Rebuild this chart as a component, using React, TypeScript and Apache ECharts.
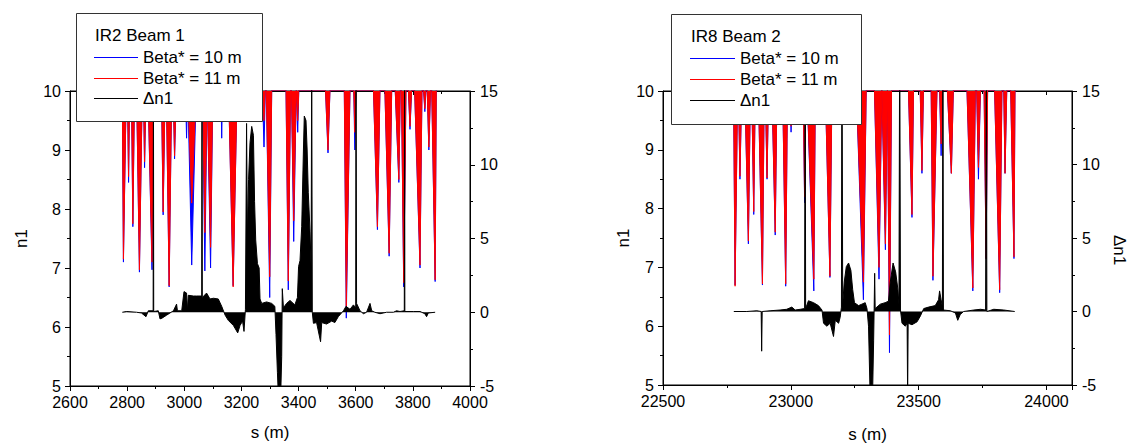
import React, { useEffect, useRef } from "react";
import * as echarts from "echarts";

// n1 value used for the part of each curve that lies just above the plotted range (off scale)
const N1_OFFSCALE = 10.05;

// IR2 Beam 1 aperture dips: [sStart, sMin, sEnd, n1 (Beta* = 10 m), n1 (Beta* = 11 m)]
const ir2Dips: number[][] = [
  [2783, 2787, 2797, 7.1, 7.15],
  [2801, 2805, 2809, 8.45, 8.55],
  [2815, 2820, 2826, 7.7, 7.75],
  [2833, 2843, 2853, 6.93, 6.97],
  [2857, 2861, 2866, 8.7, 8.8],
  [2873, 2887, 2892, 6.97, 7.1],
  [2920, 2926, 2933, 7.9, 7.95],
  [2937, 2947, 2956, 6.68, 6.7],
  [2961, 2966, 2972, 8.85, 8.9],
  [3004, 3008, 3012, 9.2, 9.8],
  [3014, 3026, 3042, 7.05, 8.1],
  [3064, 3072, 3080, 6.95, 7.6],
  [3082, 3092, 3100, 7.0, 7.35],
  [3128, 3131, 3134, 9.2, 9.9],
  [3155, 3171, 3185, 6.7, 6.68],
  [3273, 3279, 3284, 9.05, 9.5],
  [3287, 3299, 3306, 6.5, 6.85],
  [3356, 3364, 3372, 6.63, 6.78],
  [3375, 3383, 3392, 7.45, 7.8],
  [3394, 3397, 3401, 9.3, 9.5],
  [3494, 3503, 3510, 8.95, 9.0],
  [3560, 3567, 3580, 6.15, 6.35],
  [3593, 3597, 3601, 9.0, 9.3],
  [3662, 3676, 3685, 7.65, 7.7],
  [3702, 3717, 3726, 7.2, 7.25],
  [3738, 3751, 3756, 8.45, 8.5],
  [3760, 3768, 3776, 6.68, 6.75],
  [3784, 3790, 3796, 9.35, 9.4],
  [3806, 3825, 3832, 7.0, 7.05],
  [3837, 3842, 3846, 9.65, 9.7],
  [3850, 3856, 3862, 9.0, 9.05],
  [3866, 3878, 3882, 6.77, 6.8],
];

// IR2 Beam 1 delta n1: [s, dn1]
const ir2Dn1: number[][] = [
  [2783, 0], [2798, 0.05], [2833, 0], [2850, -0.05], [2866, -0.3], [2874, 0.1], [2891, 0.1],
  [2892, 18], [2893, 0.05], [2909, 0.1], [2915, -0.45], [2922, -0.4], [2938, -0.2], [2962, 0.1],
  [2973, 0.55], [2976, 0.1], [2991, 0.1], [2999, 1.4], [3008, 1.3], [3011, 0.1], [3014, 1.15],
  [3032, 1.1], [3043, 1.1], [3061, 1.1], [3062, 18], [3063, 1.0], [3078, 1.3], [3090, 0.9],
  [3102, 0.95], [3119, 0.9], [3131, 0.4], [3143, -0.2], [3154, -0.55], [3172, -0.9], [3187, -1.4],
  [3195, -0.9], [3204, -0.6], [3209, -1.3], [3214, 0.2], [3218, 12.8], [3221, 5], [3225, 9],
  [3230, 11.5], [3236, 12.6], [3242, 12.0], [3246, 7.5], [3250, 4.9], [3256, 3.3], [3262, 3.0],
  [3265, 0.9], [3271, 0.6], [3288, 0.7], [3306, 0.6], [3317, 0.4], [3321, -1.5], [3326, -4.1],
  [3330, -6], [3337, -6], [3341, -3], [3343, 1.6], [3347, 0.3], [3358, 0.6], [3370, 0.8],
  [3387, 0.5], [3396, 1.0], [3400, 3.1], [3405, 3.5], [3411, 5.8], [3417, 11], [3420, 13.3],
  [3426, 13.0], [3430, 11], [3434, 8.1], [3440, 5.5], [3444, 3.0], [3446, 18], [3448, 0],
  [3452, -0.75], [3463, -0.7], [3477, -2.0], [3481, -0.7], [3498, -0.8], [3516, -0.6],
  [3527, -0.7], [3539, -0.3], [3557, 0.1], [3566, 0.4], [3580, 0.2], [3592, 0.5], [3600, 0.3],
  [3601, 18], [3603, 0.6], [3615, 0.1], [3627, -0.1], [3638, 0], [3650, 0.6], [3656, 0.1],
  [3667, 0], [3685, -0.1], [3708, 0], [3732, 0], [3743, 0.1], [3755, 0.05], [3770, 0.1],
  [3771, 18], [3772, 0.05], [3802, 0.05], [3825, 0.05], [3842, -0.1], [3848, -0.3],
  [3854, -0.05], [3878, 0],
];

// IR8 Beam 2 aperture dips: [sStart, sMin, sEnd, n1 (Beta* = 10 m), n1 (Beta* = 11 m)]
const ir8Dips: number[][] = [
  [22776, 22782, 22792, 6.7, 6.68],
  [22795, 22801, 22808, 8.5, 8.55],
  [22820, 22834, 22842, 7.4, 7.45],
  [22847, 22855, 22861, 7.9, 7.95],
  [22873, 22889, 22896, 6.7, 6.72],
  [22900, 22907, 22913, 8.5, 8.52],
  [22926, 22939, 22946, 7.55, 7.6],
  [22968, 22980, 22987, 6.68, 6.72],
  [22997, 23001, 23005, 9.3, 9.4],
  [23048, 23054, 23058, 8.1, 8.2],
  [23063, 23090, 23096, 6.6, 6.8],
  [23135, 23153, 23161, 6.83, 6.85],
  [23256, 23284, 23295, 6.45, 6.75],
  [23327, 23345, 23356, 6.8, 7.0],
  [23358, 23370, 23378, 7.3, 7.4],
  [23380, 23386, 23394, 5.55, 5.85],
  [23460, 23474, 23480, 7.85, 7.9],
  [23506, 23513, 23519, 8.6, 8.65],
  [23549, 23556, 23572, 6.78, 6.85],
  [23582, 23588, 23594, 8.9, 9.1],
  [23612, 23628, 23636, 8.6, 8.6],
  [23689, 23712, 23722, 6.6, 6.65],
  [23727, 23734, 23742, 8.5, 8.7],
  [23756, 23764, 23770, 7.15, 7.15],
  [23797, 23817, 23826, 6.57, 6.62],
  [23833, 23838, 23845, 8.6, 8.6],
  [23860, 23873, 23877, 7.15, 7.18],
];

// IR8 Beam 2 delta n1: [s, dn1]
const ir8Dn1: number[][] = [
  [22777, 0], [22828, 0], [22867, 0.05], [22884, 0], [22886, -2.7], [22888, 0], [22919, 0.05],
  [22958, 0.1], [22984, 0.15], [23004, 0.3], [23017, 0.1], [23037, 0.15], [23054, 0.2],
  [23056, 20], [23058, 0.2], [23069, 0.73], [23089, 0.6], [23108, 0.4], [23122, 0.1],
  [23128, -0.8], [23141, -1.0], [23154, -0.8], [23167, -1.7], [23174, -0.6], [23187, -0.8],
  [23193, -0.4], [23198, 0.3], [23200, 20], [23203, 0.5], [23209, 2.0], [23217, 3.05],
  [23226, 3.3], [23235, 2.8], [23242, 1.5], [23249, 0.6], [23265, 0.4], [23278, 0.5],
  [23291, 0.6], [23298, 0.2], [23304, -1.0], [23310, -5.5], [23320, -5.5], [23324, -2.0],
  [23326, 0.2], [23328, 2.6], [23330, 0.2], [23350, 0.5], [23369, 0.6], [23382, 0.7],
  [23389, 2.0], [23400, 3.3], [23410, 2.7], [23419, 1.5], [23423, 0.5], [23426, 20],
  [23429, 0.1], [23435, -0.8], [23448, -1.0], [23455, -0.8], [23457, -6], [23459, -0.8],
  [23474, -0.9], [23494, -0.7], [23507, -0.3], [23520, 0.2], [23539, 0.3], [23565, 0.4],
  [23578, 0.8], [23582, 1.4], [23588, 0.8], [23593, 0.3], [23595, 20], [23597, 0.1],
  [23624, 0.05], [23644, -0.1], [23653, -0.6], [23663, -0.2], [23676, 0], [23716, 0.1],
  [23742, 0.15], [23762, 0.1], [23765, 20], [23767, 0], [23794, 0.15], [23833, 0.1], [23876, 0],
];

const panelTitles = ["IR2 Beam 1", "IR8 Beam 2"];
const seriesNames = ["Beta* = 10 m", "Beta* = 11 m", "\u0394n1"];
const xTicks = [
  { min: 2600, max: 4000, interval: 200 },
  { min: 22500, max: 24100, interval: 500 },
];
const n1Range = { min: 5, max: 10, interval: 1 };
const dn1Range = { min: -5, max: 15, interval: 5 };

const FONT = '"Liberation Sans", Arial, Helvetica, sans-serif';
const BLUE = "#0000ff";
const RED = "#ff0000";
const BLACK = "#000000";

function dipLine(dips: number[][], col: number): number[][] {
  const out: number[][] = [];
  for (const d of dips) {
    out.push([d[0], N1_OFFSCALE], [d[1], d[col]], [d[2], N1_OFFSCALE]);
  }
  return out;
}

const lineCommon = { color: BLACK, width: 1 };

function xAxisBottom(grid: number, r: { min: number; max: number; interval: number }, nameGap: number) {
  return {
    type: "value",
    gridIndex: grid,
    position: "bottom",
    min: r.min,
    max: r.max,
    interval: r.interval,
    name: "s (m)",
    nameLocation: "middle",
    nameGap,
    nameTextStyle: { color: BLACK, fontSize: 17, fontFamily: FONT },
    axisLine: { show: true, onZero: false, lineStyle: lineCommon },
    axisTick: { show: true, inside: false, length: 5, lineStyle: lineCommon },
    minorTick: { show: true, splitNumber: 2, length: 3, lineStyle: lineCommon },
    splitLine: { show: false },
    axisLabel: {
      color: BLACK,
      fontSize: 16,
      fontFamily: FONT,
      margin: 8,
      formatter: (v: number) => (v % r.interval === 0 ? String(v) : ""),
    },
  };
}

function xAxisTop(grid: number, r: { min: number; max: number; interval: number }) {
  return {
    type: "value",
    gridIndex: grid,
    position: "top",
    min: r.min,
    max: r.max,
    interval: r.interval,
    axisLine: { show: true, onZero: false, lineStyle: lineCommon },
    axisTick: { show: true, inside: true, length: 4, lineStyle: lineCommon },
    minorTick: { show: true, splitNumber: 2, length: 3, lineStyle: lineCommon },
    splitLine: { show: false },
    axisLabel: { show: false },
  };
}

function yAxisN1(grid: number, nameGap: number) {
  return {
    type: "value",
    gridIndex: grid,
    position: "left",
    ...n1Range,
    name: "n1",
    nameLocation: "middle",
    nameGap,
    nameRotate: 90,
    nameTextStyle: { color: BLACK, fontSize: 17, fontFamily: FONT },
    axisLine: { show: true, onZero: false, lineStyle: lineCommon },
    axisTick: { show: true, inside: false, length: 5, lineStyle: lineCommon },
    minorTick: { show: true, splitNumber: 2, length: 3, lineStyle: lineCommon },
    splitLine: { show: false },
    axisLabel: { color: BLACK, fontSize: 16, fontFamily: FONT, margin: 9 },
  };
}

function yAxisDn1(grid: number, showName: boolean, nameGap: number) {
  return {
    type: "value",
    gridIndex: grid,
    position: "right",
    ...dn1Range,
    name: showName ? "\u0394n1" : "",
    nameLocation: "middle",
    nameGap,
    nameRotate: -90,
    nameTextStyle: { color: BLACK, fontSize: 17, fontFamily: FONT, padding: [0, 0, 0, 24] },
    axisLine: { show: true, onZero: false, lineStyle: lineCommon },
    axisTick: { show: true, inside: false, length: 5, lineStyle: lineCommon },
    minorTick: { show: true, splitNumber: 2, length: 3, lineStyle: lineCommon },
    splitLine: { show: false },
    axisLabel: { color: BLACK, fontSize: 16, fontFamily: FONT, margin: 10 },
  };
}

function n1Series(name: string, xi: number, yi: number, data: number[][], color: string, z: number) {
  return {
    type: "line",
    name,
    xAxisIndex: xi,
    yAxisIndex: yi,
    data,
    symbol: "none",
    showSymbol: false,
    silent: true,
    clip: true,
    z,
    lineStyle: { color, width: 1 },
    itemStyle: { color },
    areaStyle: { color, opacity: 1, origin: "end" },
  };
}

function dnSeries(name: string, xi: number, yi: number, data: number[][]) {
  return {
    type: "line",
    name,
    xAxisIndex: xi,
    yAxisIndex: yi,
    data,
    symbol: "none",
    showSymbol: false,
    silent: true,
    clip: true,
    z: 4,
    lineStyle: { color: BLACK, width: 1 },
    itemStyle: { color: BLACK },
    areaStyle: { color: BLACK, opacity: 1, origin: "auto" },
  };
}

function legendBox(
  id: string,
  box: { x: number; y: number; w: number; h: number },
  title: string,
  titlePos: { x: number; y: number },
  lineX: [number, number],
  textX: number,
  rowYs: number[]
) {
  const colors = [BLUE, RED, BLACK];
  const els: any[] = [
    {
      id: id + "-box",
      type: "rect",
      z: 100,
      shape: { x: box.x + 0.5, y: box.y + 0.5, width: box.w, height: box.h },
      style: { fill: "#ffffff", stroke: "#333333", lineWidth: 1 },
    },
    {
      id: id + "-title",
      type: "text",
      z: 101,
      x: titlePos.x,
      y: titlePos.y,
      style: { text: title, fill: BLACK, fontSize: 17, fontFamily: FONT, align: "left", verticalAlign: "middle" },
    },
  ];
  rowYs.forEach((ry, i) => {
    els.push({
      id: id + "-swatch" + i,
      type: "rect",
      z: 101,
      shape: { x: lineX[0], y: ry, width: lineX[1] - lineX[0], height: 1 },
      style: { fill: colors[i], stroke: null },
    });
    els.push({
      id: id + "-text" + i,
      type: "text",
      z: 101,
      x: textX,
      y: ry,
      style: { text: seriesNames[i], fill: BLACK, fontSize: 17, fontFamily: FONT, align: "left", verticalAlign: "middle" },
    });
  });
  return els;
}

function buildOption() {
  return {
    animation: false,
    backgroundColor: "#ffffff",
    textStyle: { fontFamily: FONT },
    grid: [
      { left: 70, top: 91, width: 400, height: 295, show: true, borderColor: BLACK, borderWidth: 1, backgroundColor: "transparent" },
      { left: 663, top: 91, width: 409, height: 300, show: true, borderColor: BLACK, borderWidth: 1, backgroundColor: "transparent" },
    ],
    xAxis: [
      xAxisBottom(0, xTicks[0], 38),
      xAxisTop(0, xTicks[0]),
      xAxisBottom(1, xTicks[1], 41),
      xAxisTop(1, xTicks[1]),
    ],
    yAxis: [yAxisN1(0, 40), yAxisDn1(0, false, 40), yAxisN1(1, 30), yAxisDn1(1, true, 39)],
    series: [
      n1Series(seriesNames[0], 0, 0, dipLine(ir2Dips, 3), BLUE, 2),
      n1Series(seriesNames[1], 0, 0, dipLine(ir2Dips, 4), RED, 3),
      dnSeries(seriesNames[2], 0, 1, ir2Dn1),
      n1Series(seriesNames[0], 2, 2, dipLine(ir8Dips, 3), BLUE, 2),
      n1Series(seriesNames[1], 2, 2, dipLine(ir8Dips, 4), RED, 3),
      dnSeries(seriesNames[2], 2, 3, ir8Dn1),
    ],
    graphic: [
      ...legendBox("lg1", { x: 76, y: 13, w: 186, h: 108 }, panelTitles[0], { x: 95, y: 35 }, [94, 138], 143, [57, 78, 98]),
      ...legendBox("lg2", { x: 671, y: 14, w: 190, h: 110 }, panelTitles[1], { x: 691, y: 36 }, [690, 735], 740, [58, 79, 100]),
    ],
  };
}

export default function App() {
  const ref = useRef<HTMLDivElement>(null);
  useEffect(() => {
    if (!ref.current) return;
    const chart = echarts.init(ref.current, null, { renderer: "svg" });
    chart.setOption(buildOption() as any);
    return () => {
      chart.dispose();
    };
  }, []);
  return (
    <div
      ref={ref}
      style={{ position: "absolute", left: 0, top: 0, width: 1129, height: 448, background: "#ffffff" }}
    />
  );
}
